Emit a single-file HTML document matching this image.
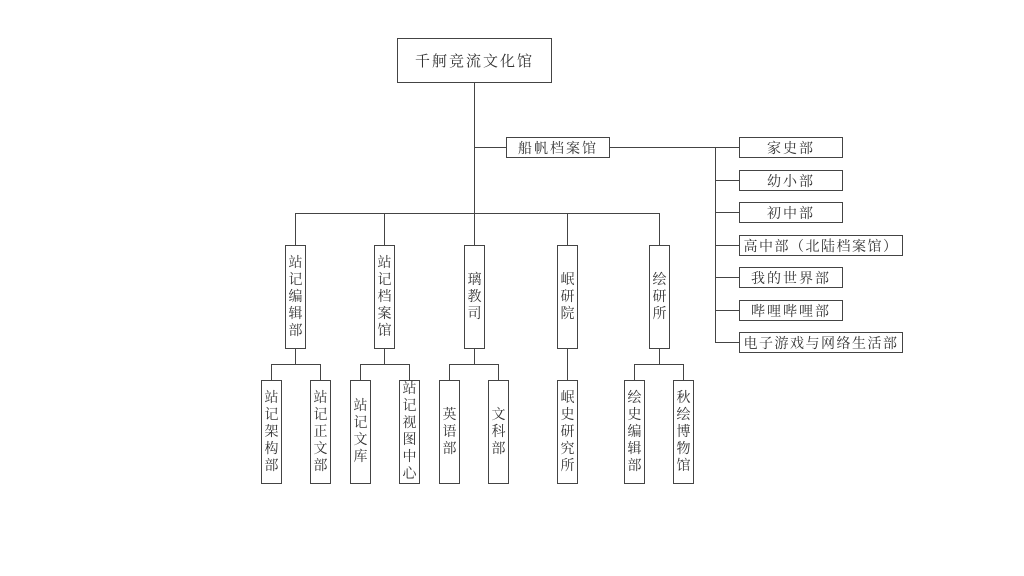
<!DOCTYPE html>
<html><head><meta charset="utf-8"><style>
body{margin:0;width:1024px;height:576px;background:#fff;position:relative;overflow:hidden;font-family:"Liberation Serif","Noto Serif CJK SC",serif;color:#333}
.b{position:absolute;border:1px solid #444;box-sizing:border-box;background:#fff;display:flex;align-items:center;justify-content:center;font-size:14px;}
.h{letter-spacing:2px}
.v{flex-direction:column;line-height:17px;text-align:center;font-size:14px}
svg{position:absolute;left:0;top:0}
</style></head><body>
<svg width="1024" height="576"><g stroke="#444" stroke-width="1" fill="none">
<path d="M474.5 82V245M474.5 147.5H506M609 147.5H739M715.5 147.5V342.5"/>
<path d="M715 180.5H739M715 212.5H739M715 245.5H739M715 277.5H739M715 310.5H739M715 342.5H739"/>
<path d="M295.5 213.5H659.5M295.5 213V245M384.5 213V245M567.5 213V245M659.5 213V245"/>
<path d="M295.5 348V364.5M271.5 364.5H320.5M271.5 364V380M320.5 364V380"/>
<path d="M384.5 348V364.5M360.5 364.5H409.5M360.5 364V380M409.5 364V380"/>
<path d="M474.5 348V364.5M449.5 364.5H498.5M449.5 364V380M498.5 364V380"/>
<path d="M567.5 348V380"/>
<path d="M659.5 348V364.5M634.5 364.5H683.5M634.5 364V380M683.5 364V380"/>
</g></svg>
<div class="b h" style="left:397px;top:38px;width:155px;height:45px;font-size:15px">千舸竞流文化馆</div>
<div class="b h" style="left:506px;top:137px;width:104px;height:21px">船帆档案馆</div>
<div class="b h" style="left:739px;top:137px;width:104px;height:21px">家史部</div>
<div class="b h" style="left:739px;top:170px;width:104px;height:21px">幼小部</div>
<div class="b h" style="left:739px;top:202px;width:104px;height:21px">初中部</div>
<div class="b h" style="left:739px;top:235px;width:164px;height:21px;letter-spacing:1.5px">高中部（北陆档案馆）</div>
<div class="b h" style="left:739px;top:267px;width:104px;height:21px">我的世界部</div>
<div class="b h" style="left:739px;top:300px;width:104px;height:21px">哔哩哔哩部</div>
<div class="b h" style="left:739px;top:332px;width:164px;height:21px;letter-spacing:1.5px">电子游戏与网络生活部</div>
<div class="b v" style="left:285px;top:245px;width:21px;height:104px">站<br>记<br>编<br>辑<br>部</div>
<div class="b v" style="left:374px;top:245px;width:21px;height:104px">站<br>记<br>档<br>案<br>馆</div>
<div class="b v" style="left:464px;top:245px;width:21px;height:104px">璃<br>教<br>司</div>
<div class="b v" style="left:557px;top:245px;width:21px;height:104px">岷<br>研<br>院</div>
<div class="b v" style="left:649px;top:245px;width:21px;height:104px">绘<br>研<br>所</div>
<div class="b v" style="left:261px;top:380px;width:21px;height:104px">站<br>记<br>架<br>构<br>部</div>
<div class="b v" style="left:310px;top:380px;width:21px;height:104px">站<br>记<br>正<br>文<br>部</div>
<div class="b v" style="left:350px;top:380px;width:21px;height:104px">站<br>记<br>文<br>库</div>
<div class="b v" style="left:399px;top:380px;width:21px;height:104px">站<br>记<br>视<br>图<br>中<br>心</div>
<div class="b v" style="left:439px;top:380px;width:21px;height:104px">英<br>语<br>部</div>
<div class="b v" style="left:488px;top:380px;width:21px;height:104px">文<br>科<br>部</div>
<div class="b v" style="left:557px;top:380px;width:21px;height:104px">岷<br>史<br>研<br>究<br>所</div>
<div class="b v" style="left:624px;top:380px;width:21px;height:104px">绘<br>史<br>编<br>辑<br>部</div>
<div class="b v" style="left:673px;top:380px;width:21px;height:104px">秋<br>绘<br>博<br>物<br>馆</div>
</body></html>
